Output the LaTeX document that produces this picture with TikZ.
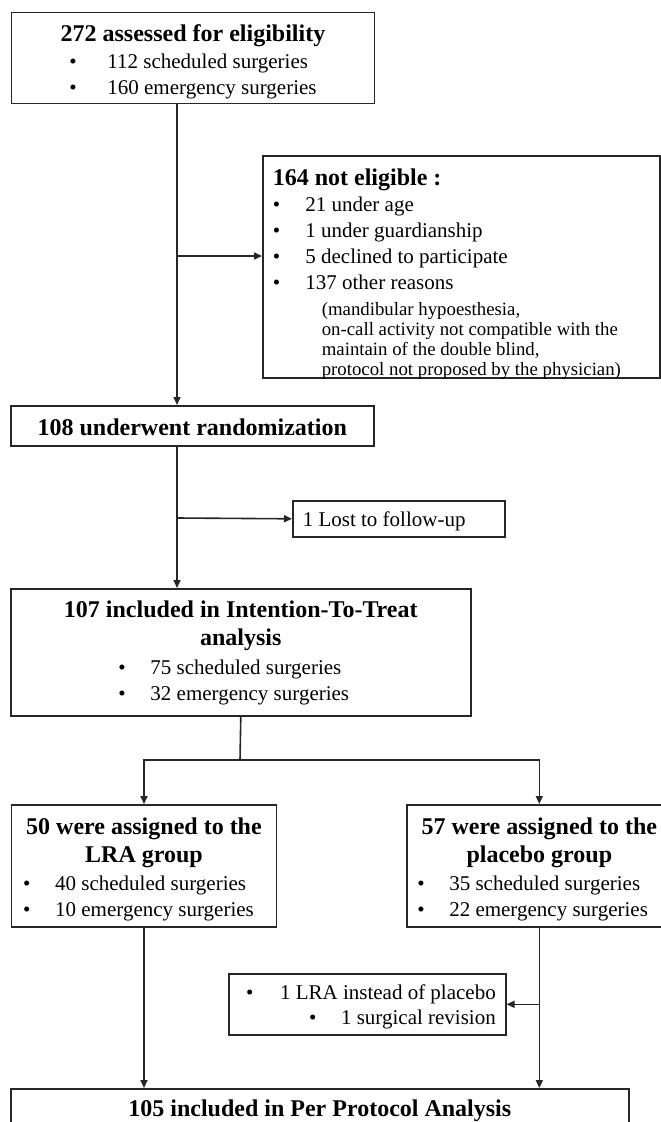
\documentclass[tikz,border=0pt]{standalone}
\usepackage{fontspec}
\setmainfont{Liberation Serif}
\usetikzlibrary{arrows.meta}

\newcommand{\itm}[2][16pt]{\makebox[#1][l]{\textbullet}#2}
\newcommand{\blist}[2][0pt]{{\mdseries\fontsize{10.5}{13}\selectfont\begin{tabular}[t]{@{}l@{\hspace{#1}}}#2\end{tabular}}}

\begin{document}
\begin{tikzpicture}[x=0.5pt,y=-0.5pt,
    box/.style={draw=black!85, line width=0.8pt, inner xsep=5pt, inner ysep=0pt,
      font=\fontsize{12}{14}\selectfont\bfseries, align=flush center, anchor=north west},
    plain/.style={font=\fontsize{10.5}{13}\selectfont},
    ln/.style={draw=black!85, line width=0.8pt},
    arr/.style={ln, -{Triangle[length=4pt,width=3.5pt]}}]
  \useasboundingbox (0,0) rectangle (660,1122);

  % screening
  \node[box, text width=171.5pt, text height=14.65pt, text depth=30.85pt] (elig) at (10.7,11.7)
    {272 assessed for eligibility\\[-0.5pt]
     \blist{\itm[19pt]{112 scheduled surgeries}\\ \itm[19pt]{160 emergency surgeries}}};
  \node[box, align=flush left, text width=188.5pt, text height=15pt, text depth=96pt] (nel) at (262,155)
    {164 not eligible :\\[-1pt]
     \blist{\itm[16.3pt]{21 under age}\\ \itm[16.3pt]{1 under guardianship}\\
       \itm[16.3pt]{5 declined to participate}\\ \itm[16.3pt]{137 other reasons}\\
       \hspace*{24.5pt}{\fontsize{9.4}{10}\selectfont\begin{tabular}[t]{@{}l@{}}
         (mandibular hypoesthesia,\\ on-call activity not compatible with the\\
         maintain of the double blind,\\ protocol not proposed by the physician)
       \end{tabular}}}};
  \node[box, text width=171.5pt, text height=15pt, text depth=5pt] (rand) at (10,405)
    {108 underwent randomization};
  \node[box, plain, align=flush left, text width=96pt, text height=13pt, text depth=5pt] (lost) at (292,500)
    {1 Lost to follow-up};

  % allocation
  \node[box, text width=220pt, text height=14.5pt, text depth=49pt] (itt) at (10,588)
    {107 included in Intention-To-Treat\\ analysis\\[0.5pt]
     \blist[7pt]{\itm{75 scheduled surgeries}\\ \itm{32 emergency surgeries}}};
  \node[box, text width=122.5pt, text height=15pt, text depth=46pt] (lra) at (10.7,804)
    {50 were assigned to the\\ LRA group\\
     \blist[5.5pt]{\itm{40 scheduled surgeries}\\ \itm{10 emergency surgeries}}};
  \node[box, text width=122.5pt, text height=15pt, text depth=46pt] (plc) at (406,804)
    {57 were assigned to the\\ placebo group\\
     \blist[6.7pt]{\itm{35 scheduled surgeries}\\ \itm{22 emergency surgeries}}};
  \node[box, plain, align=flush right, text width=128.5pt, text height=13pt, text depth=17.5pt] (dev) at (228,973)
    {\itm[17pt]{1 LRA instead of placebo}\\[-0.5pt] \itm{1 surgical revision}};
  \node[box, text width=299pt, text height=14pt, text depth=40pt] (pp) at (10,1088)
    {105 included in Per Protocol Analysis};

  % connectors
  \coordinate (s1) at (177,256);
  \coordinate (s2) at (177,518);
  \coordinate (fork) at (240,760);
  \draw[arr] (elig.south -| s1) -- (rand.north -| s1);
  \draw[arr] (s1) -- (s1 -| nel.west);
  \draw[arr] (rand.south -| s2) -- (itt.north -| s2);
  \draw[arr] (s2) -- (lost.west);
  \draw[ln] (itt.south) -- (fork);
  \draw[arr] (fork) -| (lra.north);
  \draw[arr] (fork) -| (plc.north);
  \draw[arr] (lra.south) -- (lra.south |- pp.north);
  \draw[arr] (plc.south) -- (plc.south |- pp.north);
  \draw[arr] (plc.south |- dev.east) -- (dev.east);
\end{tikzpicture}
\end{document}
